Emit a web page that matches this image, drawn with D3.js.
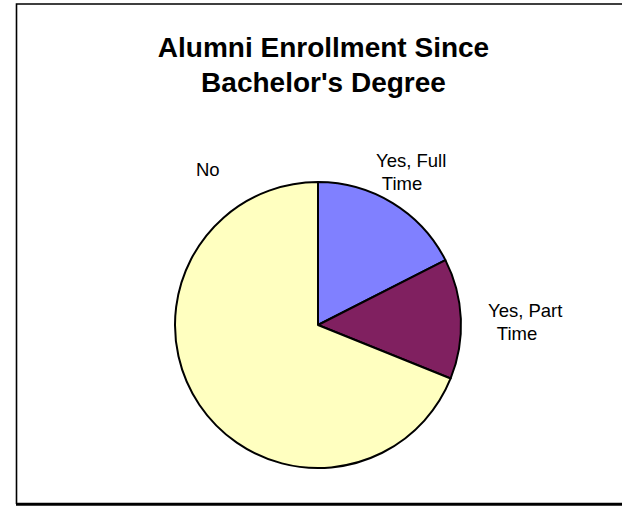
<!DOCTYPE html>
<html>
<head>
<meta charset="utf-8">
<script src="https://cdn.jsdelivr.net/npm/d3@7/dist/d3.min.js"></script>
<style>
  html, body { margin: 0; padding: 0; background: #fff; overflow: hidden; }
  svg { display: block; font-family: "Liberation Sans", Arial, sans-serif; overflow: hidden; }
</style>
</head>
<body>
<script>
// ---- data ----
const categories = ["Yes, Full Time", "Yes, Part Time", "No"];
const values = [17.5, 13.6, 68.9];
const colors = ["#8080ff", "#802060", "#ffffc0"];
const labelLines = [["Yes, Full", " Time"], ["Yes, Part", " Time"], ["No"]];
const titleLines = ["Alumni Enrollment Since", "Bachelor's Degree"];

// ---- layout ----
const W = 622, H = 507;
const cx = 318, cy = 325, R = 143;
// label anchor positions relative to pie center (in pixels)
const labelPos = [
  { dx: 58, dy: -158, indent: 6 },
  { dx: 170, dy: -8, indent: 9 },
  { dx: -122, dy: -149, indent: 0 }
];

const svg = d3.select("body").append("svg")
  .attr("width", W).attr("height", H);

// frame (left, top and bottom edges; right edge lies outside the view)
svg.append("path")
  .attr("d", `M${W + 10},4 H16.5 V504`)
  .attr("fill", "none").attr("stroke", "#000").attr("stroke-width", 1.6);
svg.append("line")
  .attr("x1", 16).attr("x2", W).attr("y1", 504.3).attr("y2", 504.3)
  .attr("stroke", "#000").attr("stroke-width", 3);

// title
const title = svg.append("text")
  .attr("text-anchor", "middle")
  .attr("font-size", 28).attr("font-weight", "bold").attr("fill", "#000");
titleLines.forEach((t, i) => {
  title.append("tspan").attr("x", 323.5).attr("y", 57 + i * 35).text(t);
});

// pie
const pie = d3.pie().sort(null).value(d => d)
  .startAngle(0).endAngle(2 * Math.PI);
const arc = d3.arc().innerRadius(0).outerRadius(R);
const arcs = pie(values);

const g = svg.append("g").attr("transform", `translate(${cx},${cy})`);
g.selectAll("path").data(arcs).enter().append("path")
  .attr("d", arc)
  .attr("fill", (d, i) => colors[i])
  .attr("stroke", "#000").attr("stroke-width", 2)
  .attr("stroke-linejoin", "round");

// labels
labelLines.forEach((lines, i) => {
  const p = labelPos[i];
  const t = g.append("text")
    .attr("font-size", 18.5).attr("fill", "#000")
    .style("white-space", "pre");
  lines.forEach((ln, j) => {
    t.append("tspan")
      .attr("x", p.dx + (j > 0 ? p.indent - 5 : 0))
      .attr("y", p.dy + j * 23)
      .text(ln);
  });
});
</script>
</body>
</html>
